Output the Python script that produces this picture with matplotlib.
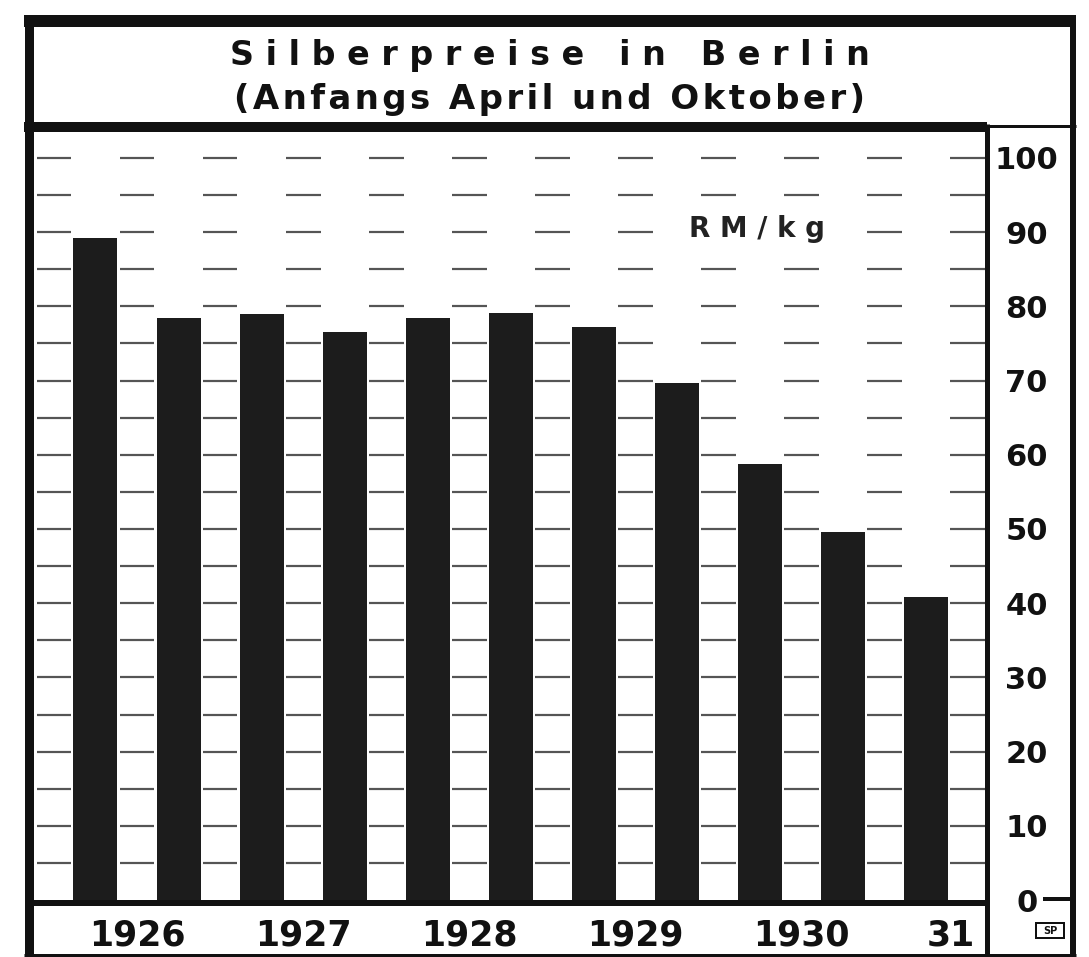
import matplotlib
matplotlib.use("Agg")
import matplotlib.pyplot as plt
from matplotlib.lines import Line2D
from matplotlib.patches import Rectangle

# ---- data ----
periods = ["Apr 1926", "Okt 1926", "Apr 1927", "Okt 1927", "Apr 1928", "Okt 1928",
           "Apr 1929", "Okt 1929", "Apr 1930", "Okt 1930", "Apr 1931"]
prices = [89.2, 78.4, 79.0, 76.5, 78.5, 79.1, 77.2, 69.7, 58.8, 49.6, 40.9]
year_labels = ["1926", "1927", "1928", "1929", "1930", "31"]
year_pos = [0.5, 2.5, 4.5, 6.5, 8.5, 10.3]
y_ticks = [0, 10, 20, 30, 40, 50, 60, 70, 80, 90, 100]
grid_levels = list(range(5, 101, 5))
title1 = "S i l b e r p r e i s e   i n   B e r l i n"
title2 = "\u200a".join("(Anfangs April und Oktober)")
unit_label = "R M / k g"

W, H = 1089, 957
fig = plt.figure(figsize=(W / 100, H / 100), dpi=100)
fig.patch.set_facecolor("white")

def fx(x):
    return x / W

def fy(y):
    return 1 - y / H

def lw(px):
    return px * 72 / 100

# axes: plot area between x 37..985 and y 133..900 (pixels)
ax = fig.add_axes([fx(37), fy(900), fx(985) - fx(37), fy(133) - fy(900)])
ppu = 7.42
ax.set_ylim(0, (900 - 133) / ppu)
ax.set_xlim(-0.704, 10.71)
for s in ax.spines.values():
    s.set_visible(False)

x = list(range(len(prices)))
# gridline dashes in the gaps between bars
gap_centers = [i + 0.5 for i in range(-1, len(prices))]
for g in grid_levels:
    for c in gap_centers:
        ax.hlines(g, c - 0.21, c + 0.21, color="#555555", lw=lw(2.2), zorder=1)

ax.bar(x, prices, width=0.53, color="#1c1c1c", zorder=2)

ax.text(7.97, 90.4, unit_label, ha="center", va="center", fontsize=20,
        fontweight="bold", color="#222222", zorder=3,
        bbox=dict(facecolor="white", edgecolor="none", pad=8))

# x tick labels (years)
ax.set_xticks(year_pos)
ax.set_xticklabels(year_labels, fontsize=25, fontweight="bold", color="#111111")
ax.tick_params(axis="x", length=0, pad=13)

# y tick labels on the right
ax.yaxis.tick_right()
ax.set_yticks(y_ticks)
ax.set_yticklabels([str(v) for v in y_ticks], fontsize=22, fontweight="bold",
                   color="#111111")
ax.tick_params(axis="y", length=0, pad=30)
for t in ax.get_yticklabels():
    t.set_horizontalalignment("center")

def hline(x0, x1, y, px, color="#111111"):
    fig.add_artist(Line2D([fx(x0), fx(x1)], [fy(y), fy(y)], transform=fig.transFigure,
                          color=color, lw=lw(px), solid_capstyle="butt"))

def vline(x, y0, y1, px, color="#111111"):
    fig.add_artist(Line2D([fx(x), fx(x)], [fy(y0), fy(y1)], transform=fig.transFigure,
                          color=color, lw=lw(px), solid_capstyle="butt"))

# frame
vline(29, 15, 957, 9)           # left border
vline(1073, 15, 957, 6)         # right border
hline(24, 1076, 21, 12)         # top band
hline(24, 987, 127, 10)         # band under title
hline(985, 1076, 126, 3)
vline(987, 124, 957, 5)         # divider to scale column
hline(33, 987, 903, 6)          # baseline
hline(24, 1076, 955, 3)         # bottom border
hline(1043, 1070, 899, 4)       # zero mark

# SP box
fig.add_artist(Rectangle((fx(1036), fy(938)), fx(1064) - fx(1036), fy(923) - fy(938),
                         transform=fig.transFigure, fill=False, lw=lw(2),
                         edgecolor="#111111"))
fig.text(fx(1050), fy(930.5), "SP", ha="center", va="center", fontsize=7,
         fontweight="bold", color="#111111")

# title
fig.text(fx(550), fy(55), title1, ha="center", va="center", fontsize=24,
         fontweight="bold", color="#111111")
fig.text(fx(549), fy(100), title2, ha="center", va="center", fontsize=24.5,
         fontweight="bold", color="#111111")

fig.savefig("out.png", dpi=100, facecolor="white")
